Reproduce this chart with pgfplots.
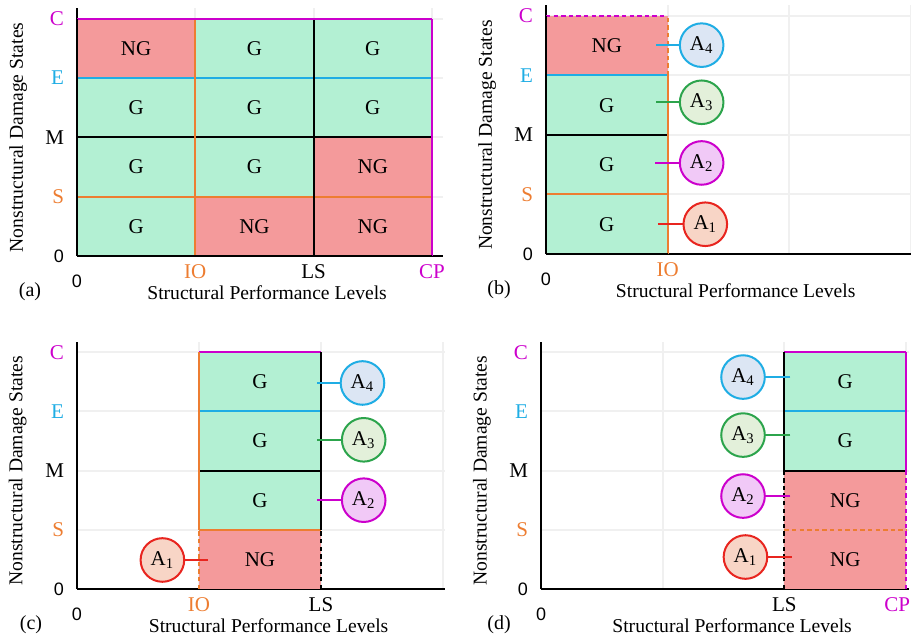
\documentclass[border=0pt]{standalone}
\usepackage{fontspec}
\setmainfont{Liberation Serif}
\newfontfamily\sansf{Liberation Sans}
\usepackage{pgfplots}
\pgfplotsset{compat=1.18}
\definecolor{cG}{HTML}{B3F0D3}
\definecolor{cR}{HTML}{F49A9B}
\definecolor{cO}{HTML}{ED7D31}
\definecolor{cC}{HTML}{1FADE4}
\definecolor{cM}{HTML}{CC00CC}
\definecolor{cGr}{HTML}{2CA44C}
\definecolor{cRd}{HTML}{E8251F}
\definecolor{fA}{HTML}{DCE6F4}
\definecolor{fB}{HTML}{E3F0DA}
\definecolor{fC}{HTML}{F1C9F7}
\definecolor{fD}{HTML}{F8D5C6}
\newcommand{\cellfont}{\fontsize{10.5}{12}\selectfont}
\newcommand{\cell}[5]{\addplot[fill=#5, draw=none] coordinates {(#1,#2) (#3,#2) (#3,#4) (#1,#4)} -- cycle;}
\newcommand{\seg}[5]{\addplot[#5, line width=1pt] coordinates {(#1,#2) (#3,#4)};}
\newcommand{\txt}[3]{\node[font=\cellfont] at (axis cs:#1,#2) {#3};}
\newcommand{\callout}[7]{%
  \addplot[#5, line width=1pt] coordinates {(#1,#3) (#2,#3)};
  \addplot[only marks, mark=*, mark size=10.9pt, mark options={draw=#5, fill=#6, line width=1pt},
    nodes near coords={A\textsubscript{#7}},
    every node near coord/.append style={anchor=center, text=black, font=\fontsize{10.5}{12}\selectfont}] coordinates {(#2,#3)};}
\tikzset{dsh/.style={dash pattern=on 2.2pt off 1.6pt}}
\pgfplotsset{panel/.style={
  scale only axis, axis lines=left, axis line style={-, line width=1pt, black},
  xmin=0, ymin=0, ymax=4.18, anchor=origin,
  xtick={0,1,2,3}, ytick={0,1,2,3,4},
  yticklabels={{\sansf\fontsize{9}{10}\selectfont 0\hspace{2pt}}, {\color{cO}S}, M, {\color{cC}E}, {\color{cM}C}},
  major tick length=0pt, grid=major, grid style={line width=1pt, black!6},
  tick label style={font=\fontsize{10.5}{12}\selectfont},
  xticklabel style={anchor=base, yshift=-11.5pt},
  yticklabel style={xshift=-3pt},
  xlabel={Structural Performance Levels}, ylabel={Nonstructural Damage States},
  label style={font=\fontsize{9.8}{12}\selectfont},
  xlabel style={at={(axis description cs:0.52,-0.148)}, anchor=center},
  ylabel style={at={(axis description cs:-0.161,0.478)}, anchor=center},
  clip=false,
}}
\newcommand{\zero}{{\sansf\fontsize{9}{10}\selectfont\raisebox{-4.5pt}{0}}}
\begin{document}
\begin{tikzpicture}
\useasboundingbox (0,0) rectangle (455.5pt,321pt);
% (a)
\begin{axis}[panel, at={(38.5pt,193pt)}, x=59.15pt, y=29.65pt, xmax=3.09,
  xticklabels={\zero, {\color{cO}IO}, LS, {\color{cM}CP}}]
\cell{0}{0}{3}{4}{cG}
\cell{1}{0}{3}{1}{cR}
\cell{2}{1}{3}{2}{cR}
\cell{0}{3}{1}{4}{cR}
\seg{0}{1}{3}{1}{cO}
\seg{0}{2}{3}{2}{black}
\seg{0}{3}{3}{3}{cC}
\seg{1}{0}{1}{4}{cO}
\seg{2}{0}{2}{4}{black}
\seg{3}{0}{3}{4}{cM}
\seg{0}{4}{3}{4}{cM}
\seg{0}{0}{0}{4}{black}
\seg{0}{0}{3}{0}{black}
\txt{0.5}{0.5}{G}\txt{1.5}{0.5}{NG}\txt{2.5}{0.5}{NG}
\txt{0.5}{1.5}{G}\txt{1.5}{1.5}{G}\txt{2.5}{1.5}{NG}
\txt{0.5}{2.5}{G}\txt{1.5}{2.5}{G}\txt{2.5}{2.5}{G}
\txt{0.5}{3.5}{NG}\txt{1.5}{3.5}{G}\txt{2.5}{3.5}{G}
\end{axis}
% (b)
\begin{axis}[panel, at={(273pt,194pt)}, x=60.8pt, y=29.75pt, xmax=3.0,
  xticklabels={\zero, {\color{cO}IO}, {}, {}}]
\cell{0}{0}{1}{3}{cG}
\cell{0}{3}{1}{4}{cR}
\seg{0}{1}{1}{1}{cO}
\seg{0}{2}{1}{2}{black}
\seg{0}{3}{1}{3}{cC}
\seg{1}{0}{1}{3}{cO}
\seg{1}{3}{1}{4}{cO, dsh}
\seg{0}{4}{1}{4}{cM, dsh}
\seg{0}{0}{0}{4}{black}
\seg{0}{0}{1}{0}{black}
\txt{0.5}{0.5}{G}\txt{0.5}{1.5}{G}\txt{0.5}{2.5}{G}\txt{0.5}{3.5}{NG}
\callout{0.905}{1.28}{3.51}{}{cC}{fA}{4}
\callout{0.905}{1.28}{2.55}{}{cGr}{fB}{3}
\callout{0.9}{1.28}{1.53}{}{cM}{fC}{2}
\callout{0.92}{1.31}{0.5}{}{cRd}{fD}{1}
\end{axis}
% (c)
\begin{axis}[panel, at={(38.5pt,26.5pt)}, x=61pt, y=29.6pt, xmax=3.02,
  xticklabels={\zero, {\color{cO}IO}, LS, {}}]
\cell{1}{0}{2}{1}{cR}
\cell{1}{1}{2}{4}{cG}
\seg{1}{1}{2}{1}{cO}
\seg{1}{2}{2}{2}{black}
\seg{1}{3}{2}{3}{cC}
\seg{1}{4}{2}{4}{cM}
\seg{1}{1}{1}{4}{cO}
\seg{1}{0}{1}{1}{cO, dsh}
\seg{2}{1}{2}{4}{black}
\seg{2}{0}{2}{1}{black, dsh}
\txt{1.5}{0.5}{NG}\txt{1.5}{1.5}{G}\txt{1.5}{2.5}{G}\txt{1.5}{3.5}{G}
\callout{1.97}{2.34}{3.48}{}{cC}{fA}{4}
\callout{1.97}{2.35}{2.52}{}{cGr}{fB}{3}
\callout{1.97}{2.35}{1.5}{}{cM}{fC}{2}
\callout{1.07}{0.70}{0.49}{}{cRd}{fD}{1}
\end{axis}
% (d)
\begin{axis}[panel, at={(270.5pt,26.5pt)}, x=60.85pt, y=29.6pt, xmax=3.02,
  xticklabels={\zero, {}, LS, {\color{cM}\makebox[0pt][r]{CP\kern-2pt}}}]
\cell{2}{0}{3}{2}{cR}
\cell{2}{2}{3}{4}{cG}
\seg{2}{1}{3}{1}{cO, dsh}
\seg{2}{2}{3}{2}{black}
\seg{2}{3}{3}{3}{cC}
\seg{2}{4}{3}{4}{cM}
\seg{2}{2}{2}{4}{black}
\seg{2}{0}{2}{2}{black, dsh}
\seg{3}{2}{3}{4}{cM}
\seg{3}{0}{3}{2}{cM, dsh}
\txt{2.5}{0.5}{NG}\txt{2.5}{1.5}{NG}\txt{2.5}{2.5}{G}\txt{2.5}{3.5}{G}
\callout{2.05}{1.66}{3.58}{}{cC}{fA}{4}
\callout{2.05}{1.66}{2.60}{}{cGr}{fB}{3}
\callout{2.05}{1.66}{1.57}{}{cM}{fC}{2}
\callout{2.06}{1.68}{0.54}{}{cRd}{fD}{1}
\end{axis}
\node[font=\fontsize{10}{12}\selectfont] at (15pt,175pt) {(a)};
\node[font=\fontsize{10}{12}\selectfont] at (249.5pt,176pt) {(b)};
\node[font=\fontsize{10}{12}\selectfont] at (15.5pt,8.5pt) {(c)};
\node[font=\fontsize{10}{12}\selectfont] at (249.5pt,8.5pt) {(d)};
\end{tikzpicture}
\end{document}
